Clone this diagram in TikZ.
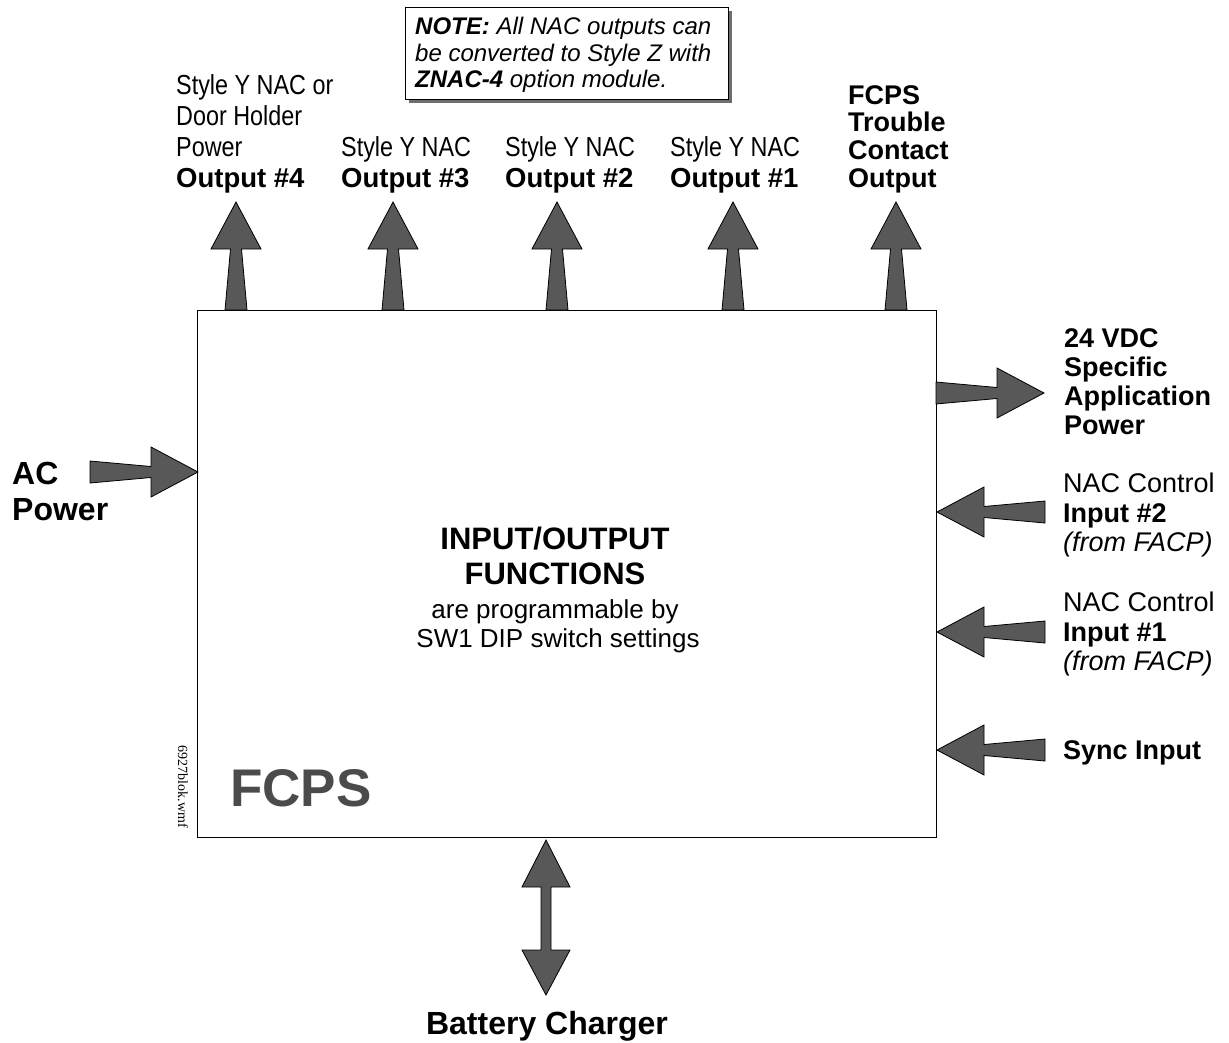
\documentclass[tikz,border=0pt]{standalone}
\usepackage{graphicx}
\usepackage{fontspec}
\setmainfont{Liberation Sans}
\newfontfamily\wmffont{Liberation Serif}
\definecolor{arrowgray}{RGB}{88,88,88}
\definecolor{shadowgray}{RGB}{110,110,110}
\definecolor{fcpsgray}{RGB}{75,75,75}
\newcommand\cond[1]{\scalebox{0.85}[1]{#1}}
\tikzset{
  fat/.style={fill=arrowgray, draw=black, line width=0.8pt, line join=miter},
  lbl/.style={inner sep=0pt, anchor=north west, align=left},
  fatarrow/.pic={\path[fat] (0,-11) -- (61,-5.5) -- (61,-25) -- (108,0) -- (61,25) -- (61,5.5) -- (0,11) -- cycle;}
}
\begin{document}
\begin{tikzpicture}[x=1pt,y=-1pt]
\useasboundingbox (0,0) rectangle (1229,1042);

% main box
\node[draw, line width=1.2pt, minimum width=739pt, minimum height=527pt, inner sep=0pt, anchor=north west] (box) at (197,310) {};

% note box with shadow
\fill[shadowgray] (409,11) rectangle (732,103);
\node[draw, fill=white, line width=0.8pt, minimum width=323pt, minimum height=92pt, inner sep=0pt, anchor=north west] (notebox) at (405,7) {};
\node[lbl, font=\fontsize{24}{26.5}\selectfont\itshape] (note) at (415,17)
  {{\bfseries NOTE:} All NAC outputs can\\be converted to Style Z with\\{\bfseries ZNAC-4} option module.};

% top arrows
\pic[rotate=90] at (236,310) {fatarrow};
\pic[rotate=90] at (393,310) {fatarrow};
\pic[rotate=90] at (557,310) {fatarrow};
\pic[rotate=90] at (733,310) {fatarrow};
\pic[rotate=90] at (896,310) {fatarrow};

% right arrows
\pic at (936,393) {fatarrow};
\pic[rotate=180] at (1045,512) {fatarrow};
\pic[rotate=180] at (1045,632) {fatarrow};
\pic[rotate=180] at (1045,750) {fatarrow};

% AC arrow
\pic at (90,472) {fatarrow};

% battery double arrow
\path[fat] (546,840) -- (570,887) -- (551,887) -- (551,950) -- (570,950) -- (546,995)
  -- (522,950) -- (541,950) -- (541,887) -- (522,887) -- cycle;

% top labels
\node[lbl, font=\fontsize{27.5}{31}\selectfont] (o4lbl) at (176,74)
  {\cond{Style Y NAC or}\\\cond{Door Holder}\\\cond{Power}\\{\bfseries Output \#4}};
\node[lbl, font=\fontsize{27.5}{31}\selectfont] (o3lbl) at (341,136)
  {\cond{Style Y NAC}\\{\bfseries Output \#3}};
\node[lbl, font=\fontsize{27.5}{31}\selectfont] (o2lbl) at (505,136)
  {\cond{Style Y NAC}\\{\bfseries Output \#2}};
\node[lbl, font=\fontsize{27.5}{31}\selectfont] (o1lbl) at (670,136)
  {\cond{Style Y NAC}\\{\bfseries Output \#1}};
\node[lbl, font=\fontsize{27}{27.7}\selectfont\bfseries] (trouble) at (848,85)
  {FCPS\\Trouble\\Contact\\Output};

% right labels
\node[lbl, font=\fontsize{27}{29}\selectfont\bfseries] (vdc) at (1064,328)
  {24 VDC\\Specific\\Application\\Power};
\node[lbl, font=\fontsize{27}{29.5}\selectfont] (in2) at (1063,473)
  {NAC Control\\{\bfseries Input \#2}\\{\itshape (from FACP)}};
\node[lbl, font=\fontsize{27}{29.5}\selectfont] (in1) at (1063,592)
  {NAC Control\\{\bfseries Input \#1}\\{\itshape (from FACP)}};
\node[lbl, font=\fontsize{27}{29.5}\selectfont\bfseries] (sync) at (1063,740) {Sync Input};

% left label
\node[lbl, font=\fontsize{32}{36}\selectfont\bfseries] (ac) at (12,462) {AC\\Power};

% center text
\node[anchor=north, inner sep=0pt, font=\fontsize{31}{31}\selectfont\bfseries] (io1) at (555,527) {INPUT/OUTPUT};
\node[anchor=north, inner sep=0pt, font=\fontsize{31}{31}\selectfont\bfseries] (io2) at (555,563) {FUNCTIONS};
\node[anchor=north, inner sep=0pt, font=\fontsize{26}{26}\selectfont] (io3) at (555,599) {are programmable by};
\node[anchor=north, inner sep=0pt, font=\fontsize{26}{26}\selectfont] (io4) at (558,628) {SW1 DIP switch settings};

% FCPS title
\node[anchor=north west, inner sep=0pt, font=\fontsize{53}{53}\selectfont\bfseries, text=fcpsgray] (fcpsl) at (230,769) {FCPS};

% file name
\node[rotate=-90, inner sep=0pt, font=\wmffont\fontsize{14}{14}\selectfont] (wmf) at (183,787) {6927blok.wmf};

% battery label
\node[anchor=north, inner sep=0pt, font=\fontsize{32}{32}\selectfont\bfseries] (batt) at (547,1011) {Battery Charger};
\end{tikzpicture}
\end{document}
